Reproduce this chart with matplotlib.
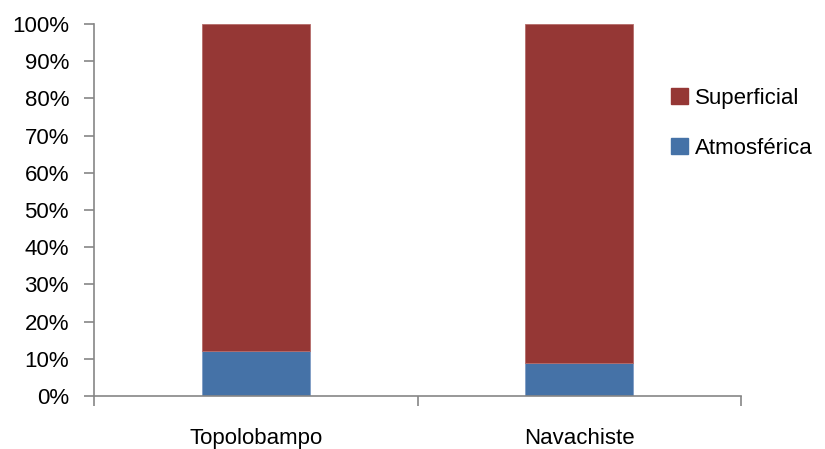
import matplotlib
matplotlib.use("Agg")
import matplotlib.pyplot as plt
from matplotlib.patches import Patch
from matplotlib.ticker import FixedLocator, PercentFormatter

categories = ["Topolobampo", "Navachiste"]
atmosferica = [12.1, 8.9]
superficial = [100 - a for a in atmosferica]

blue = "#4572A7"
red = "#953735"
axis_gray = "#868686"

plt.rcParams['font.family'] = ['Liberation Sans', 'DejaVu Sans']
fs = 16

fig = plt.figure(figsize=(8.25, 4.49), dpi=100)
ax = fig.add_axes([94/825, 53/449, (741-94)/825, (396-24)/449])

x = list(range(len(categories)))
w = 0.334
ax.bar(x, atmosferica, width=w, color=blue, edgecolor="#7f9cc4", linewidth=0.6, zorder=2)
ax.bar(x, superficial, width=w, bottom=atmosferica, color=red, edgecolor="#b56c6a", linewidth=0.6, zorder=2)

ax.set_xlim(-0.5, len(categories) - 0.5)
ax.set_ylim(0, 100)
ax.yaxis.set_major_locator(FixedLocator(range(0, 101, 10)))
ax.yaxis.set_major_formatter(PercentFormatter(decimals=0))

ax.set_xticks(x)
ax.set_xticklabels(categories)
ax.xaxis.set_minor_locator(FixedLocator([i - 0.5 for i in range(len(categories) + 1)]))
ax.tick_params(axis='x', which='major', length=0, pad=23, labelsize=fs)
ax.tick_params(axis='x', which='minor', length=7, width=1.2, color=axis_gray, direction='out')
ax.tick_params(axis='y', which='major', length=7, width=1.2, color=axis_gray, direction='out', labelsize=fs, pad=11)

for s in ['top', 'right']:
    ax.spines[s].set_visible(False)
for s in ['left', 'bottom']:
    ax.spines[s].set_color(axis_gray)
    ax.spines[s].set_linewidth(1.2)

handles = [Patch(facecolor=red, edgecolor=red, label="Superficial"),
           Patch(facecolor=blue, edgecolor=blue, label="Atmosférica")]
fig.legend(handles=handles, loc='upper left', bbox_to_anchor=(662/825, 1 - 79/449),
           frameon=False, fontsize=fs, handlelength=0.75, handleheight=0.75,
           handletextpad=0.35, labelspacing=1.3, borderaxespad=0)

fig.savefig("out.png", dpi=100)
